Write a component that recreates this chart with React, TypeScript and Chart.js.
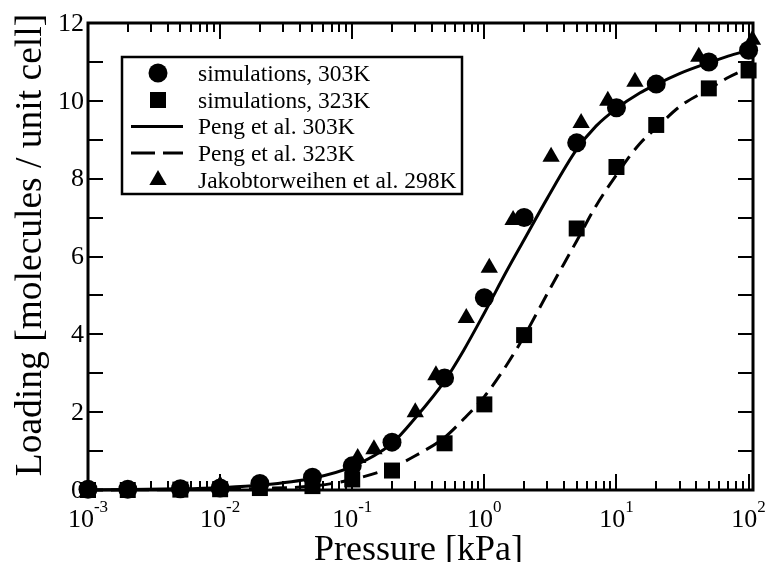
import React, { useEffect, useRef } from 'react';
import { Chart, registerables } from 'chart.js';

Chart.register(...registerables);

// ---------- data ----------
const pressureSim = [0.001, 0.002, 0.005, 0.01, 0.02, 0.05, 0.1, 0.2, 0.5, 1, 2, 5, 10, 20, 50, 100];
const sim303 = [0.02, 0.02, 0.03, 0.05, 0.17, 0.33, 0.62, 1.23, 2.88, 4.94, 7.0, 8.92, 9.82, 10.43, 11.0, 11.3];
const sim323 = [0.0, 0.0, 0.01, 0.02, 0.05, 0.1, 0.27, 0.5, 1.2, 2.2, 3.98, 6.72, 8.3, 9.38, 10.32, 10.78];

const pressureFit = [0.001, 0.002, 0.005, 0.01, 0.02, 0.05, 0.1, 0.2, 0.3, 0.5, 0.7, 1, 1.5, 2, 3, 5, 7, 10, 15, 20, 30, 50, 70, 100];
const peng303 = [0.006, 0.012, 0.03, 0.06, 0.12, 0.3, 0.6, 1.2, 1.85, 2.8, 3.6, 4.55, 5.67, 6.43, 7.5, 8.75, 9.35, 9.8, 10.2, 10.42, 10.7, 10.98, 11.15, 11.3];
const peng323 = [0.002, 0.004, 0.01, 0.02, 0.04, 0.1, 0.27, 0.58, 0.88, 1.35, 1.83, 2.4, 3.25, 3.95, 5.05, 6.4, 7.3, 8.1, 8.9, 9.3, 9.85, 10.3, 10.6, 10.85];

const pressureJak = [0.01, 0.11, 0.146, 0.3, 0.43, 0.73, 1.09, 1.65, 3.2, 5.4, 8.6, 13.8, 42, 107];
const jak298 = [0.12, 0.82, 1.05, 2.0, 2.95, 4.42, 5.71, 6.94, 8.56, 9.43, 10.0, 10.49, 11.13, 11.57];

const xTickExponents = [-3, -2, -1, 0, 1, 2];
const yTickLabels = [0, 2, 4, 6, 8, 10, 12];
const yTickValues = [0, 1, 2, 3, 4, 5, 6, 7, 8, 9, 10, 11, 12];

const legendLabels = [
  'simulations, 303K',
  'simulations, 323K',
  'Peng et al. 303K',
  'Peng et al. 323K',
  'Jakobtorweihen et al. 298K',
];

const xTitle = 'Pressure [kPa]';
const yTitle = 'Loading [molecules / unit cell]';

const FONT = '"Liberation Serif", "Times New Roman", serif';

const pts = (xs: number[], ys: number[]) => xs.map((x, i) => ({ x, y: ys[i] }));

export default function App() {
  const ref = useRef<HTMLCanvasElement>(null);

  useEffect(() => {
    document.body.style.margin = '0';
    const canvas = ref.current!;

    const decor = {
      id: 'decor',
      beforeDatasetsDraw(chart: any) {
        const { ctx, chartArea: a, scales } = chart;
        const x = scales.x;
        const y = scales.y;
        ctx.save();
        ctx.strokeStyle = '#000';
        ctx.lineWidth = 2;
        ctx.beginPath();
        for (const e of xTickExponents) {
          for (let k = 1; k <= 9; k++) {
            const v = k * Math.pow(10, e);
            if (v > x.max) break;
            const px = Math.round(x.getPixelForValue(v));
            const len = k === 1 ? 16 : 9;
            ctx.moveTo(px, a.bottom);
            ctx.lineTo(px, a.bottom - len);
            ctx.moveTo(px, a.top);
            ctx.lineTo(px, a.top + len);
          }
        }
        for (const v of yTickValues) {
          const py = Math.round(y.getPixelForValue(v));
          ctx.moveTo(a.left, py);
          ctx.lineTo(a.left + 15, py);
          ctx.moveTo(a.right, py);
          ctx.lineTo(a.right - 15, py);
        }
        ctx.stroke();
        ctx.lineWidth = 3;
        ctx.strokeRect(a.left, a.top, a.right - a.left, a.bottom - a.top);
        ctx.restore();
      },
      afterDraw(chart: any) {
        const { ctx, chartArea: a, scales } = chart;
        const x = scales.x;
        const y = scales.y;
        ctx.save();
        ctx.fillStyle = '#000';

        // y tick labels
        ctx.font = `26px ${FONT}`;
        ctx.textAlign = 'right';
        ctx.textBaseline = 'middle';
        for (const v of yTickLabels) {
          ctx.fillText(String(v), a.left - 4, y.getPixelForValue(v) + 1);
        }

        // x tick labels 10^n
        ctx.textBaseline = 'alphabetic';
        ctx.textAlign = 'left';
        for (const e of xTickExponents) {
          const px = x.getPixelForValue(Math.pow(10, e));
          ctx.font = `26px ${FONT}`;
          const w10 = ctx.measureText('10').width;
          ctx.font = `17px ${FONT}`;
          const expStr = e < 0 ? `-${-e}` : String(e);
          const we = ctx.measureText(expStr).width;
          const left = px - (w10 + we) / 2;
          ctx.font = `26px ${FONT}`;
          ctx.fillText('10', left, 527);
          ctx.font = `17px ${FONT}`;
          ctx.fillText(expStr, left + w10, 512);
        }

        // axis titles
        ctx.font = `36px ${FONT}`;
        ctx.textAlign = 'center';
        ctx.fillText(xTitle, (a.left + a.right) / 2 - 2, 560);
        ctx.save();
        ctx.font = `37.5px ${FONT}`;
        ctx.translate(41, 245);
        ctx.rotate(-Math.PI / 2);
        ctx.fillText(yTitle, 0, 0);
        ctx.restore();

        // legend box
        const bx = 122, by = 57, bw = 340, bh = 137;
        ctx.fillStyle = '#fff';
        ctx.fillRect(bx, by, bw, bh);
        ctx.strokeStyle = '#000';
        ctx.lineWidth = 2.5;
        ctx.strokeRect(bx, by, bw, bh);
        const rows = [73, 100, 126.5, 153, 180];
        const sx = 158;
        ctx.fillStyle = '#000';
        // circle
        ctx.beginPath();
        ctx.arc(sx, rows[0], 9.5, 0, Math.PI * 2);
        ctx.fill();
        // square
        ctx.fillRect(sx - 8, rows[1] - 8, 16, 16);
        // solid line
        ctx.lineWidth = 3;
        ctx.beginPath();
        ctx.moveTo(131, rows[2]);
        ctx.lineTo(183, rows[2]);
        ctx.stroke();
        // dashed line
        ctx.setLineDash([24, 8]);
        ctx.beginPath();
        ctx.moveTo(131, rows[3]);
        ctx.lineTo(183, rows[3]);
        ctx.stroke();
        ctx.setLineDash([]);
        // triangle
        const r = 10;
        ctx.beginPath();
        ctx.moveTo(sx, rows[4] - r);
        ctx.lineTo(sx + r * 0.866, rows[4] + r / 2);
        ctx.lineTo(sx - r * 0.866, rows[4] + r / 2);
        ctx.closePath();
        ctx.fill();

        ctx.font = `23.5px ${FONT}`;
        ctx.textAlign = 'left';
        ctx.textBaseline = 'alphabetic';
        legendLabels.forEach((lbl, i) => {
          ctx.fillText(lbl, 198, rows[i] + 7.5);
        });
        ctx.restore();
      },
    };

    const chart = new Chart(canvas, {
      type: 'scatter',
      data: {
        datasets: [
          {
            label: legendLabels[0],
            data: pts(pressureSim, sim303),
            pointStyle: 'circle',
            pointRadius: 9.5,
            pointHoverRadius: 9.5,
            pointBackgroundColor: '#000',
            pointBorderWidth: 0,
            showLine: false,
            clip: false,
          },
          {
            label: legendLabels[1],
            data: pts(pressureSim, sim323),
            pointStyle: 'rect',
            pointRadius: 11.3,
            pointHoverRadius: 11.3,
            pointBackgroundColor: '#000',
            pointBorderWidth: 0,
            showLine: false,
            clip: false,
          },
          {
            label: legendLabels[4],
            data: pts(pressureJak, jak298),
            pointStyle: 'triangle',
            pointRadius: 10,
            pointHoverRadius: 10,
            pointBackgroundColor: '#000',
            pointBorderWidth: 0,
            showLine: false,
            clip: false,
          },
          {
            label: legendLabels[2],
            data: pts(pressureFit, peng303),
            showLine: true,
            pointRadius: 0,
            borderColor: '#000',
            borderWidth: 3,
            cubicInterpolationMode: 'monotone',
            clip: false,
          },
          {
            label: legendLabels[3],
            data: pts(pressureFit, peng323),
            showLine: true,
            pointRadius: 0,
            borderColor: '#000',
            borderWidth: 3,
            borderDash: [15, 8],
            cubicInterpolationMode: 'monotone',
            clip: false,
          },
        ] as any,
      },
      options: {
        animation: false,
        responsive: false,
        devicePixelRatio: 1,
        layout: { padding: { left: 88, top: 23, right: 15, bottom: 72 } },
        plugins: {
          legend: { display: false },
          tooltip: { enabled: false },
          title: { display: false },
        },
        events: [],
        scales: {
          x: { type: 'logarithmic', min: 0.001, max: 108, display: false },
          y: { type: 'linear', min: 0, max: 12, display: false },
        },
      } as any,
      plugins: [decor],
    });
    return () => chart.destroy();
  }, []);

  return <canvas ref={ref} width={768} height={562} style={{ display: 'block' }} />;
}
